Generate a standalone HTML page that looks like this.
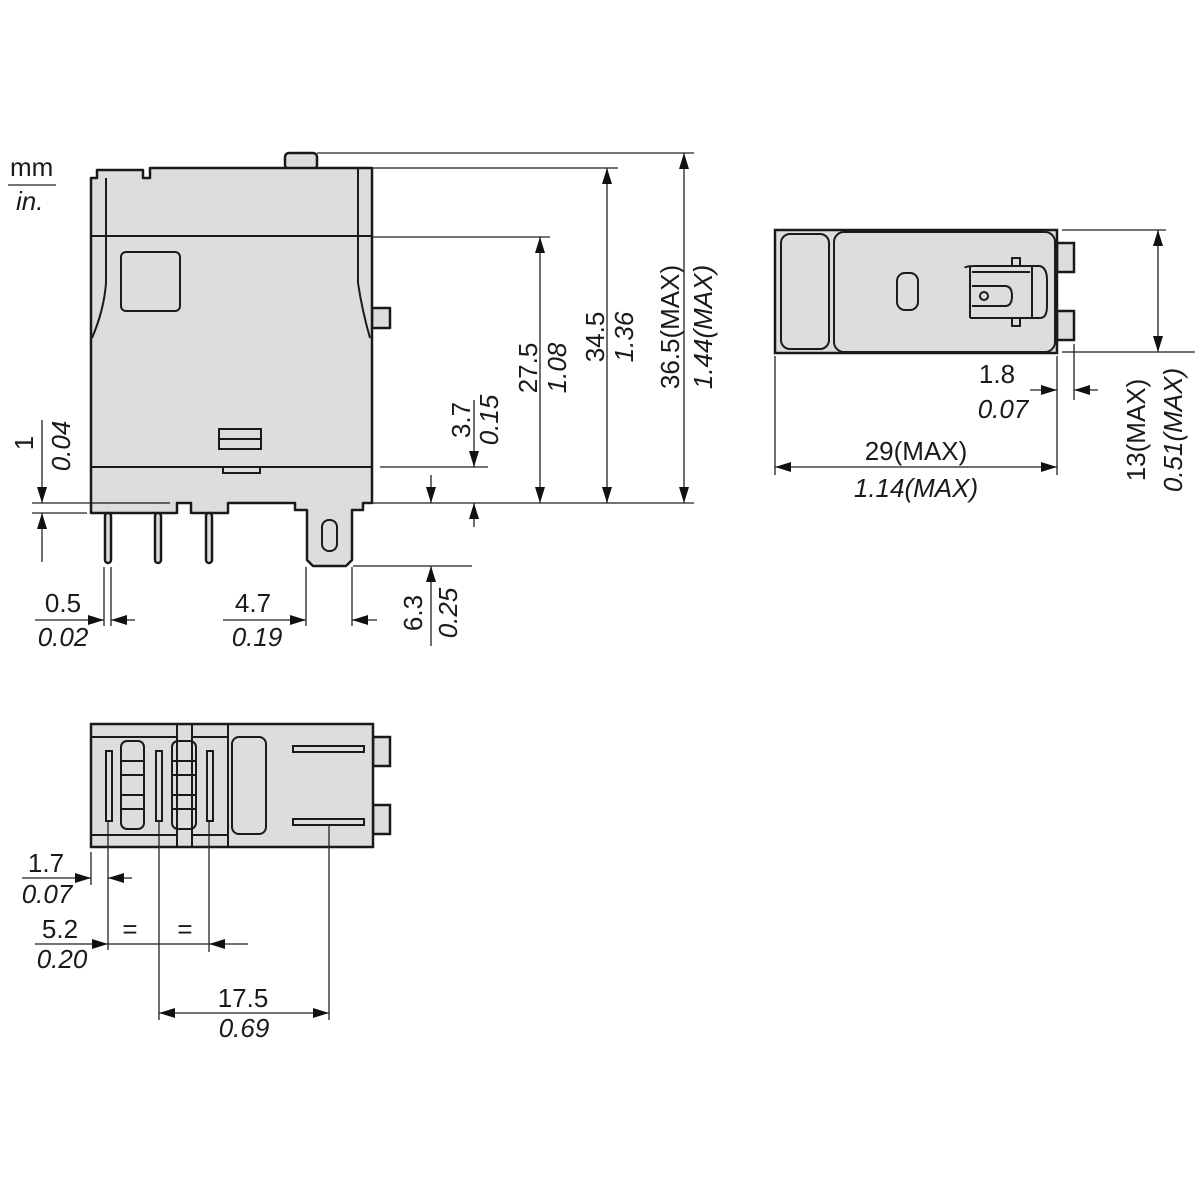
<!DOCTYPE html>
<html><head><meta charset="utf-8"><style>
html,body{margin:0;padding:0;background:#fff}
svg{display:block}
text{font-family:"Liberation Sans",sans-serif;font-size:26px;fill:#1a1a1a}
.i{font-style:italic}
</style></head><body>
<svg width="1200" height="1200" viewBox="0 0 1200 1200" xmlns="http://www.w3.org/2000/svg">
<defs>
<marker id="a" viewBox="0 0 16 10" refX="16" refY="5" markerWidth="16" markerHeight="10" markerUnits="userSpaceOnUse" orient="auto-start-reverse"><path d="M0,0 L16,5 L0,10 Z" fill="#111"/></marker>
</defs>
<g fill="none" stroke="#222" stroke-width="1.3">
<line x1="8" y1="185" x2="56" y2="185"/>
</g>
<text x="10" y="176">mm</text>
<text x="16" y="210" class="i">in.</text>

<!-- FRONT VIEW -->
<g stroke="#1a1a1a" stroke-width="2.5" fill="#dedcde" stroke-linejoin="round">
<rect x="285" y="153" width="32" height="16" rx="4"/>
<rect x="372" y="308" width="18" height="20"/>
<path d="M91,178 L97,178 L97,170 L143,170 L143,178 L150,178 L150,168 L372,168 L372,503 L363,503 L363,510 L352,510 L352,560 L346,566 L313,566 L307,560 L307,510 L295,510 L295,503 L228,503 L228,513 L191,513 L191,503 L177,503 L177,513 L91,513 Z"/>
<rect x="105" y="513" width="6" height="50" rx="3"/>
<rect x="155" y="513" width="6" height="50" rx="3"/>
<rect x="206" y="513" width="6" height="50" rx="3"/>
</g>
<g stroke="#1a1a1a" stroke-width="2" fill="none">
<line x1="91" y1="236" x2="372" y2="236"/>
<line x1="91" y1="467" x2="372" y2="467"/>
<path d="M106,178 L106,283 Q104,310 92,338"/>
<path d="M358,168 L358,283 Q362,310 370,338"/>
<rect x="121" y="252" width="59" height="59" rx="5"/>
<rect x="219" y="429" width="42" height="20"/>
<line x1="219" y1="439" x2="261" y2="439"/>
<rect x="223" y="467" width="37" height="6"/>
<rect x="322" y="520" width="15" height="31" rx="7"/>
<line x1="91" y1="503" x2="170" y2="503" stroke-width="1.2"/>
</g>

<g stroke="#222" stroke-width="1.3" fill="none">
<line x1="317" y1="153" x2="694" y2="153"/>
<line x1="372" y1="168" x2="618" y2="168"/>
<line x1="372" y1="237" x2="550" y2="237"/>
<line x1="372" y1="503" x2="694" y2="503"/>
<line x1="380" y1="467" x2="488" y2="467"/>
<line x1="540" y1="237" x2="540" y2="503" marker-start="url(#a)" marker-end="url(#a)"/>
<line x1="607" y1="168" x2="607" y2="503" marker-start="url(#a)" marker-end="url(#a)"/>
<line x1="684" y1="153" x2="684" y2="503" marker-start="url(#a)" marker-end="url(#a)"/>
<line x1="474" y1="400" x2="474" y2="467" marker-end="url(#a)"/>
<line x1="474" y1="527" x2="474" y2="503" marker-end="url(#a)"/>
<line x1="431" y1="475" x2="431" y2="503" marker-end="url(#a)"/>
<line x1="431" y1="646" x2="431" y2="566" marker-end="url(#a)"/>
<line x1="353" y1="566" x2="472" y2="566"/>
<line x1="42" y1="420" x2="42" y2="503" marker-end="url(#a)"/>
<line x1="42" y1="562" x2="42" y2="513" marker-end="url(#a)"/>
<line x1="32" y1="503" x2="91" y2="503"/>
<line x1="32" y1="513" x2="87" y2="513"/>
<line x1="104" y1="567" x2="104" y2="626"/>
<line x1="111" y1="567" x2="111" y2="626"/>
<line x1="35" y1="620" x2="104" y2="620" marker-end="url(#a)"/>
<line x1="135" y1="620" x2="111" y2="620" marker-end="url(#a)"/>
<line x1="306" y1="567" x2="306" y2="626"/>
<line x1="352" y1="567" x2="352" y2="626"/>
<line x1="223" y1="620" x2="306" y2="620" marker-end="url(#a)"/>
<line x1="377" y1="620" x2="352" y2="620" marker-end="url(#a)"/>
</g>
<text transform="translate(537,368) rotate(-90)" text-anchor="middle">27.5</text>
<text transform="translate(566,368) rotate(-90)" text-anchor="middle" class="i">1.08</text>
<text transform="translate(604,337) rotate(-90)" text-anchor="middle">34.5</text>
<text transform="translate(633,337) rotate(-90)" text-anchor="middle" class="i">1.36</text>
<text transform="translate(679,327) rotate(-90)" text-anchor="middle">36.5(MAX)</text>
<text transform="translate(712,327) rotate(-90)" text-anchor="middle" class="i">1.44(MAX)</text>
<text transform="translate(470,420) rotate(-90)" text-anchor="middle">3.7</text>
<text transform="translate(498,420) rotate(-90)" text-anchor="middle" class="i">0.15</text>
<text transform="translate(422,613) rotate(-90)" text-anchor="middle">6.3</text>
<text transform="translate(457,613) rotate(-90)" text-anchor="middle" class="i">0.25</text>
<text transform="translate(33,443) rotate(-90)" text-anchor="middle">1</text>
<text transform="translate(70,446) rotate(-90)" text-anchor="middle" class="i">0.04</text>
<text x="63" y="612" text-anchor="middle">0.5</text>
<text x="63" y="646" text-anchor="middle" class="i">0.02</text>
<text x="253" y="612" text-anchor="middle">4.7</text>
<text x="257" y="646" text-anchor="middle" class="i">0.19</text>

<!-- TOP RIGHT VIEW -->
<g stroke="#1a1a1a" stroke-width="2.5" fill="#dedcde">
<rect x="1057" y="243" width="17" height="29"/>
<rect x="1057" y="311" width="17" height="29"/>
<rect x="775" y="230" width="282" height="123"/>
</g>
<g stroke="#1a1a1a" stroke-width="2" fill="none">
<rect x="781" y="234" width="48" height="115" rx="9"/>
<rect x="834" y="232" width="221" height="120" rx="10"/>
<rect x="897" y="273" width="21" height="37" rx="8"/>
<path d="M965,268 Q965,266 975,266 L1040,266 Q1047,268 1047,280 L1047,306 Q1047,318 1040,318 L970,318"/>
<line x1="970" y1="266" x2="970" y2="318"/>
<line x1="1032" y1="266" x2="1032" y2="318"/>
<line x1="972" y1="272" x2="1030" y2="272"/>
<path d="M972,286 L1005,286 Q1012,286 1012,296 Q1012,306 1005,306 L972,306"/>
<circle cx="984" cy="296" r="4"/>
<rect x="1012" y="258" width="8" height="8"/>
<rect x="1012" y="318" width="8" height="8"/>
</g>
<g stroke="#222" stroke-width="1.3" fill="none">
<line x1="1062" y1="230" x2="1166" y2="230"/>
<line x1="1062" y1="352" x2="1195" y2="352"/>
<line x1="1158" y1="230" x2="1158" y2="352" marker-start="url(#a)" marker-end="url(#a)"/>
<line x1="1057" y1="356" x2="1057" y2="475"/>
<line x1="1074" y1="344" x2="1074" y2="400"/>
<line x1="775" y1="356" x2="775" y2="475"/>
<line x1="775" y1="467" x2="1057" y2="467" marker-start="url(#a)" marker-end="url(#a)"/>
<line x1="1030" y1="390" x2="1057" y2="390" marker-end="url(#a)"/>
<line x1="1098" y1="390" x2="1074" y2="390" marker-end="url(#a)"/>
</g>
<text x="997" y="383" text-anchor="middle">1.8</text>
<text x="1003" y="418" text-anchor="middle" class="i">0.07</text>
<text x="916" y="460" text-anchor="middle">29(MAX)</text>
<text x="916" y="497" text-anchor="middle" class="i">1.14(MAX)</text>
<text transform="translate(1145,430) rotate(-90)" text-anchor="middle">13(MAX)</text>
<text transform="translate(1182,430) rotate(-90)" text-anchor="middle" class="i">0.51(MAX)</text>

<!-- BOTTOM VIEW -->
<g stroke="#1a1a1a" stroke-width="2.5" fill="#dedcde">
<rect x="373" y="737" width="17" height="29"/>
<rect x="373" y="805" width="17" height="29"/>
<rect x="91" y="724" width="282" height="123"/>
</g>
<g stroke="#1a1a1a" stroke-width="2" fill="none">
<rect x="91" y="724" width="86" height="13"/>
<rect x="192" y="724" width="36" height="13"/>
<rect x="91" y="835" width="86" height="12"/>
<rect x="192" y="835" width="36" height="12"/>
<line x1="177" y1="724" x2="177" y2="847"/>
<line x1="192" y1="724" x2="192" y2="847"/>
<line x1="228" y1="724" x2="228" y2="847"/>
<rect x="106" y="751" width="6" height="70"/>
<rect x="156" y="751" width="6" height="70"/>
<rect x="207" y="751" width="6" height="70"/>
<rect x="121" y="741" width="23" height="88" rx="6"/>
<line x1="121" y1="761" x2="144" y2="761"/><line x1="121" y1="775" x2="144" y2="775"/><line x1="121" y1="795" x2="144" y2="795"/><line x1="121" y1="809" x2="144" y2="809"/>
<rect x="172" y="741" width="24" height="88" rx="6"/>
<line x1="172" y1="761" x2="196" y2="761"/><line x1="172" y1="775" x2="196" y2="775"/><line x1="172" y1="795" x2="196" y2="795"/><line x1="172" y1="809" x2="196" y2="809"/>
<rect x="232" y="737" width="34" height="97" rx="7"/>
<rect x="293" y="746" width="71" height="6"/>
<rect x="293" y="819" width="71" height="6"/>
</g>
<g stroke="#222" stroke-width="1.3" fill="none">
<line x1="91" y1="852" x2="91" y2="885"/>
<line x1="108" y1="821" x2="108" y2="950"/>
<line x1="159" y1="821" x2="159" y2="1020"/>
<line x1="209" y1="821" x2="209" y2="952"/>
<line x1="329" y1="826" x2="329" y2="1020"/>
<line x1="22" y1="878" x2="91" y2="878" marker-end="url(#a)"/>
<line x1="132" y1="878" x2="108" y2="878" marker-end="url(#a)"/>
<line x1="35" y1="944" x2="108" y2="944" marker-end="url(#a)"/>
<line x1="248" y1="944" x2="209" y2="944" marker-end="url(#a)"/>
<line x1="108" y1="944" x2="209" y2="944"/>
<line x1="159" y1="1013" x2="329" y2="1013" marker-start="url(#a)" marker-end="url(#a)"/>
</g>
<text x="46" y="872" text-anchor="middle">1.7</text>
<text x="47" y="903" text-anchor="middle" class="i">0.07</text>
<text x="60" y="938" text-anchor="middle">5.2</text>
<text x="62" y="968" text-anchor="middle" class="i">0.20</text>
<text x="130" y="938" text-anchor="middle">=</text>
<text x="185" y="938" text-anchor="middle">=</text>
<text x="243" y="1007" text-anchor="middle">17.5</text>
<text x="244" y="1037" text-anchor="middle" class="i">0.69</text>
</svg>
</body></html>
